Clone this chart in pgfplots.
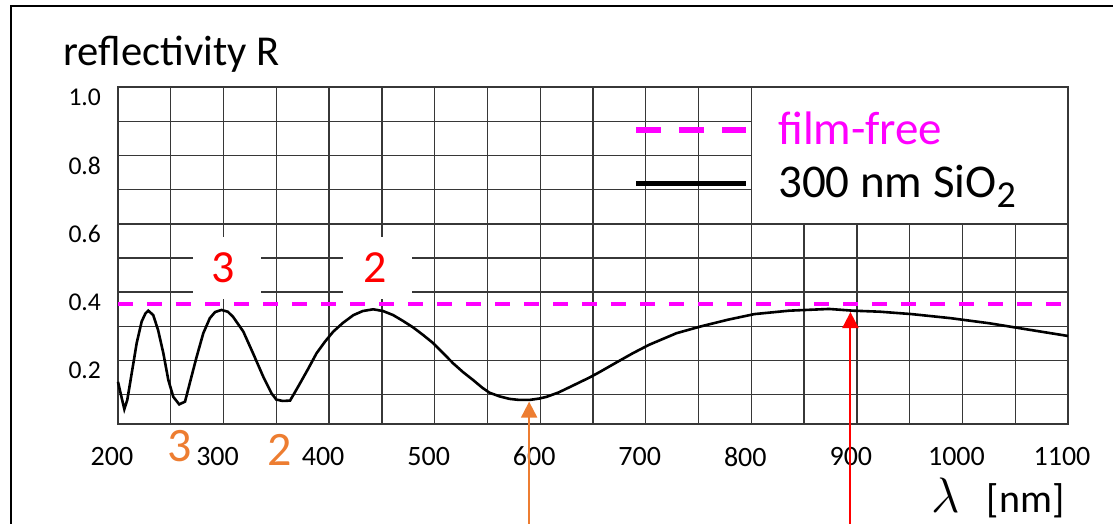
\documentclass[border=0pt]{standalone}
\usepackage{fontspec}
\setmainfont{Carlito}
\usepackage{pgfplots}
\pgfplotsset{compat=1.18}
\usetikzlibrary{arrows.meta}
\definecolor{mag}{RGB}{255,0,255}
\definecolor{org}{RGB}{237,125,49}
\definecolor{gridc}{RGB}{55,55,55}

\pgfplotstableread{
nm R
200 0.138
202.5 0.104
206 0.058
208.8 0.085
213 0.163
217.7 0.251
222.4 0.314
226 0.338
228.7 0.346
233.4 0.333
238 0.289
243 0.221
247.7 0.143
252.4 0.094
258 0.072
263.5 0.080
268 0.134
274.5 0.211
280.8 0.280
287 0.324
292 0.342
298 0.348
304 0.343
309 0.328
318.7 0.285
328 0.221
337.6 0.153
345.5 0.104
350 0.086
356 0.082
363 0.083
370.7 0.124
380 0.175
388 0.221
396 0.255
404 0.285
413 0.310
423 0.333
432 0.345
441.7 0.350
451 0.345
460.7 0.333
470 0.316
479.6 0.297
489 0.275
498.6 0.251
508 0.222
517.5 0.192
527 0.166
536.5 0.143
545 0.121
552 0.106
561.8 0.095
571 0.088
580 0.085
590 0.085
599 0.089
606 0.094
617.5 0.107
631 0.127
647 0.151
656 0.166
673 0.196
688 0.222
703 0.246
729 0.280
751 0.299
777 0.319
803 0.336
836 0.346
873.7 0.351
896 0.346
921.6 0.343
951.7 0.336
989 0.324
1025.8 0.309
1055.7 0.294
1100 0.272
}\sio

\begin{document}
\begin{tikzpicture}
\useasboundingbox (-59pt,-50pt) rectangle (497.5pt,212pt);
\begin{axis}[
  scale only axis, width=475pt, height=168.5pt,
  xmin=200, xmax=1100, ymin=0.0146, ymax=1.0,
  xtick={200,300,...,1100}, minor xtick={250,350,...,1050},
  ytick={0.2,0.4,0.6,0.8,1.0}, minor ytick={0.1,0.3,0.5,0.7,0.9},
  grid=both,
  major grid style={gridc, line width=0.7pt},
  minor grid style={gridc, line width=0.7pt},
  axis line style={gridc, line width=0.8pt},
  major tick length=0pt, minor tick length=0pt,
  /pgf/number format/assume math mode=true,
  /pgf/number format/1000 sep={},
  xticklabel style={font=\fontsize{14}{16}\selectfont, yshift=-8pt, xshift=-3pt},
  yticklabel style={font=\fontsize{12.8}{14}\selectfont,
     /pgf/number format/fixed, /pgf/number format/fixed zerofill,
     /pgf/number format/precision=1, xshift=-5pt, yshift=-5pt},
  clip=false,
  legend image code/.code={\draw[#1] (0pt,7pt) -- (55pt,7pt);},
  legend style={draw=none, fill=none, inner sep=0pt,
     at={(axis cs:687.7,0.933)}, anchor=north west,
     font=\fontsize{23.5}{25}\selectfont,
     nodes={inner sep=0pt, anchor=base west, text height=17pt, text depth=6pt},
     column sep=14.5pt, row sep=3.5pt},
  legend cell align=left,
]
% white boxes
\fill[white] (axis cs:271,0.38) rectangle (axis cs:335.4,0.56);
\fill[white] (axis cs:413,0.38) rectangle (axis cs:478.4,0.56);
\draw[gridc, line width=0.7pt, fill=white] (axis cs:800,0.6) rectangle (axis cs:1100,1.0);

\addplot[mag, line width=2pt, dash pattern=on 7.5pt off 7pt, forget plot]
  coordinates {(200,0.365) (1100,0.365)};
\addplot[black, line width=1.3pt, forget plot] table[x=nm, y=R] {\sio};

\addlegendimage{mag, line width=3pt, dash pattern=on 12.5pt off 9pt}
\addlegendentry{\textcolor{mag}{film-free}}
\addlegendimage{black, line width=2.5pt}
\addlegendentry{300 nm SiO\raisebox{-0.22em}{\fontsize{19}{19}\selectfont 2}}

% labels
\node[red, font=\fontsize{23}{24}\selectfont] at (axis cs:299.5,0.471) {3};
\node[red, font=\fontsize{23}{24}\selectfont] at (axis cs:443.4,0.471) {2};
\node[org, font=\fontsize{24}{24}\selectfont] at (axis cs:258.7,-0.05) {3};
\node[org, font=\fontsize{24}{24}\selectfont] at (axis cs:353.4,-0.061) {2};

% arrows
\draw[org, line width=1pt, -{Triangle[length=8pt,width=8pt]}]
  (axis cs:589.5,-0.3) -- (axis cs:589.5,0.08);
\draw[red, line width=1pt, -{Triangle[length=8pt,width=8pt]}]
  (axis cs:893.9,-0.3) -- (axis cs:893.9,0.342);

% titles
\node[anchor=base west, inner sep=0pt, font=\fontsize{21.3}{22}\selectfont]
  at (axis cs:147.9,1.064) {reflectivity R};
\node[anchor=base east, inner sep=0pt, font=\fontsize{20}{22}\selectfont]
  at (axis cs:1097,-0.243) {{\fontsize{23}{24}\selectfont$\lambda$}\hspace{0.45em} [nm]};

% outer frame
\draw[black, line width=1pt] (axis cs:98.7,-0.4) |- (axis cs:1160,1.237);
\end{axis}
\end{tikzpicture}
\end{document}
